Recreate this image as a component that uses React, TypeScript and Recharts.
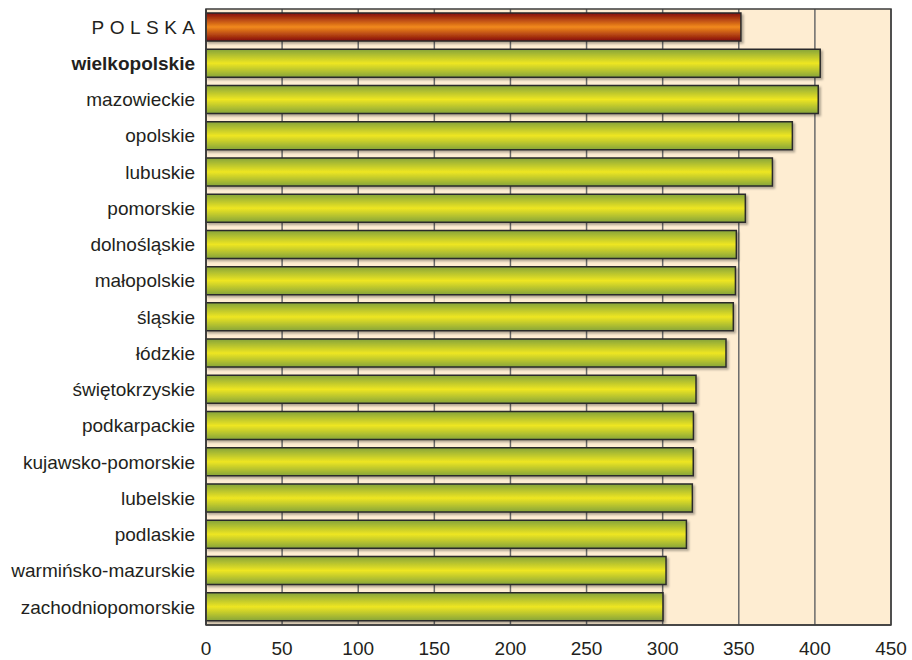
import React from 'react';
import { BarChart, Bar, XAxis, YAxis, CartesianGrid, Cell, ReferenceArea } from 'recharts';

const regions = [
  'POLSKA',
  'wielkopolskie',
  'mazowieckie',
  'opolskie',
  'lubuskie',
  'pomorskie',
  'dolnośląskie',
  'małopolskie',
  'śląskie',
  'łódzkie',
  'świętokrzyskie',
  'podkarpackie',
  'kujawsko-pomorskie',
  'lubelskie',
  'podlaskie',
  'warmińsko-mazurskie',
  'zachodniopomorskie',
];

const values = [351.4, 403.5, 402.2, 385.2, 372.1, 354.3, 348.4, 347.8, 346.4, 341.6, 321.9, 320.2, 320.1, 319.5, 315.6, 302.2, 300.2];

const xTicks = [0, 50, 100, 150, 200, 250, 300, 350, 400, 450];

const data = regions.map((name, i) => ({ name, value: values[i] }));

const FONT = '"Liberation Sans", Arial, sans-serif';
const TEXT = '#231f20';

const YTick = (props: any) => {
  const { x, y, payload } = props;
  const v = payload.value as string;
  if (v === 'POLSKA') {
    return (
      <text x={x + 5.5} y={y} dy="0.35em" textAnchor="end" fontFamily={FONT} fontSize={19} fill={TEXT} letterSpacing={5.5}>
        {v}
      </text>
    );
  }
  return (
    <text x={x} y={y} dy="0.35em" textAnchor="end" fontFamily={FONT} fontSize={19} fill={TEXT} fontWeight={v === 'wielkopolskie' ? 'bold' : 'normal'}>
      {v}
    </text>
  );
};

export default function App() {
  return (
    <div style={{ position: 'absolute', left: 0, top: 0, width: 912, height: 660, background: '#fff' }}>
      <BarChart
        width={912}
        height={660}
        data={data}
        layout="vertical"
        margin={{ top: 9, right: 21, bottom: 0, left: 0 }}
        barCategoryGap="11%"
      >
        <defs>
          <linearGradient id="gGreen" x1="0" y1="0" x2="0" y2="1">
            <stop offset="0%" stopColor="#86a43a" />
            <stop offset="50%" stopColor="#eee622" />
            <stop offset="100%" stopColor="#86a43a" />
          </linearGradient>
          <linearGradient id="gRed" x1="0" y1="0" x2="0" y2="1">
            <stop offset="0%" stopColor="#840c0a" />
            <stop offset="50%" stopColor="#f28a1c" />
            <stop offset="100%" stopColor="#840c0a" />
          </linearGradient>
          <filter id="shadow" x="-5%" y="-20%" width="110%" height="150%">
            <feDropShadow dx="2" dy="2" stdDeviation="1" floodColor="#000" floodOpacity="0.3" />
          </filter>
        </defs>
        <CartesianGrid horizontal={false} fill="#feedd2" stroke="#6a6a6a" strokeWidth={1.5} />
        <XAxis
          type="number"
          domain={[0, 450]}
          ticks={xTicks}
          interval={0}
          height={35}
          tickLine={false}
          tickSize={0}
          tickMargin={16.5}
          axisLine={{ stroke: '#3c3c3c', strokeWidth: 1.5 }}
          tick={{ fontFamily: FONT, fontSize: 19, fill: TEXT }}
        />
        <YAxis
          type="category"
          dataKey="name"
          width={206}
          tickLine={false}
          tickSize={0}
          tickMargin={11}
          axisLine={{ stroke: '#3c3c3c', strokeWidth: 1.5 }}
          tick={<YTick />}
          interval={0}
        />
        <Bar dataKey="value" isAnimationActive={false} stroke="#2a2a2a" strokeWidth={1.5} filter="url(#shadow)">
          {data.map((d, i) => (
            <Cell key={d.name} fill={i === 0 ? 'url(#gRed)' : 'url(#gGreen)'} />
          ))}
        </Bar>
        <ReferenceArea x1={0} x2={450} fill="none" stroke="#3c3c3c" strokeWidth={1.5} ifOverflow="visible" />
      </BarChart>
    </div>
  );
}
